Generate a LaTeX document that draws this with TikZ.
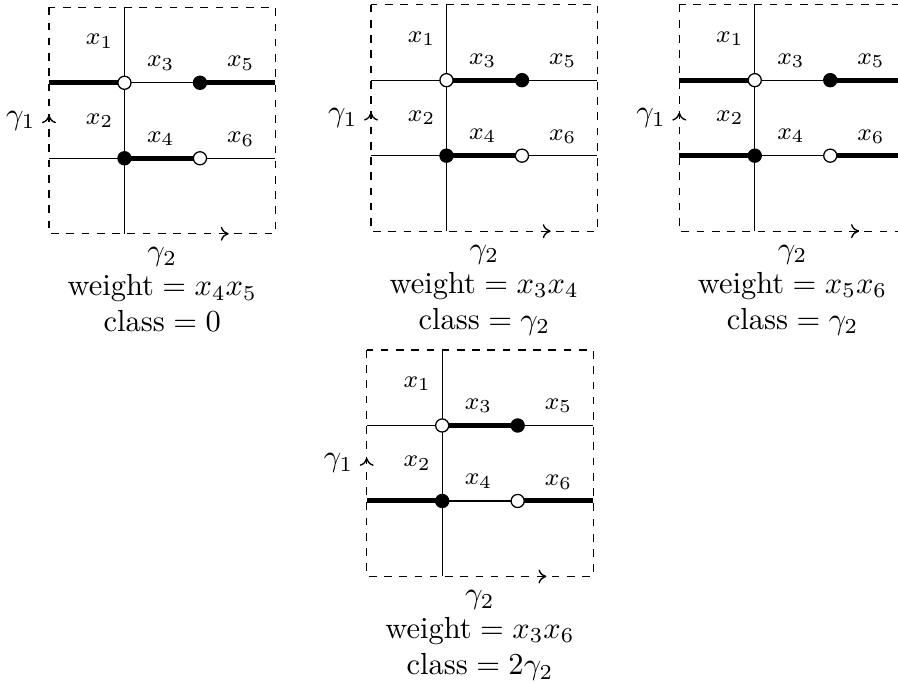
\documentclass[tikz,border=0pt]{standalone}
\usetikzlibrary{arrows.meta}
\pgfdeclarelayer{edges}
\pgfsetlayers{edges,main}
\tikzset{
  thinln/.style={line width=0.42pt},
  thk/.style={line width=1.65pt},
  bnd/.style={line width=0.42pt, dash pattern=on 2.5pt off 2.5pt},
  wv/.style={circle, draw, fill=white, inner sep=0pt, minimum size=4.3pt, line width=0.42pt},
  bv/.style={circle, draw, fill=black, inner sep=0pt, minimum size=4.3pt, line width=0.42pt},
  lab/.style={font=\footnotesize, inner sep=0pt},
  tipmark/.style={-{Computer Modern Rightarrow[length=2.6pt,width=4.6pt]}, line width=0.45pt, solid},
  captxt/.style={anchor=base, inner sep=0pt},
  panel/.style={x=24.76pt, y=-24.76pt}
}
\newcommand\gridpanel[1]{%
  \coordinate (#1nw) at (0,0);
  \coordinate (#1se) at (3,3);
  \coordinate (#1top) at (1,0);
  \coordinate (#1bot) at (1,3);
  \coordinate (#1lu) at (0,1);
  \coordinate (#1ru) at (3,1);
  \coordinate (#1ll) at (0,2);
  \coordinate (#1rl) at (3,2);
  \coordinate (#1ga) at (0,1.435);
  \coordinate (#1gb) at (0,1.43);
  \coordinate (#1gc) at (2.375,3);
  \coordinate (#1gd) at (2.38,3);
  \node[wv] (#1a) at (1,1) {};
  \node[bv] (#1b) at (2,1) {};
  \node[bv] (#1c) at (1,2) {};
  \node[wv] (#1d) at (2,2) {};
  \begin{pgfonlayer}{edges}
    \draw[bnd] (#1nw) rectangle (#1se);
    \draw[thinln] (#1top) -- (#1bot);
    \draw[thinln] (#1lu) -- (#1ru);
    \draw[thinln] (#1ll) -- (#1rl);
  \end{pgfonlayer}
  \draw[tipmark] (#1ga) -- (#1gb);
  \draw[tipmark] (#1gc) -- (#1gd);
  \node[lab] (#1x1) at (0.67,0.45) {$x_1$};
  \node[lab] (#1x2) at (0.67,1.5) {$x_2$};
  \node[lab] (#1x3) at (1.48,0.74) {$x_3$};
  \node[lab] (#1x4) at (1.48,1.74) {$x_4$};
  \node[lab] (#1x5) at (2.54,0.74) {$x_5$};
  \node[lab] (#1x6) at (2.54,1.75) {$x_6$};
  \node[anchor=east, inner sep=0pt] (#1g1) at (-0.17,1.5) {$\gamma_1$};
  \node (#1g2) at (1.5,3.31) {$\gamma_2$};
}
\begin{document}
\begin{tikzpicture}[x=0.328pt, y=-0.328pt]
\useasboundingbox (0,0) rectangle (898,683);
\clip (0,0) rectangle (898,683);

% panel 1
\begin{scope}[xshift=16.07pt, yshift=-2.39pt, panel]
  \gridpanel{p}
  \begin{pgfonlayer}{edges}
    \draw[thk] (plu) -- (pa.center);
    \draw[thk] (pb.center) -- (pru);
    \draw[thk] (pc.center) -- (pd.center);
  \end{pgfonlayer}
  \node[captxt] (pw) at (1.5,3.82) {$\mbox{weight} = x_4x_5$};
  \node[captxt] (pk) at (1.5,4.3) {$\mbox{class} = 0$};
\end{scope}

% panel 2
\begin{scope}[xshift=121.69pt, yshift=-1.54pt, panel]
  \gridpanel{q}
  \begin{pgfonlayer}{edges}
    \draw[thk] (qa.center) -- (qb.center);
    \draw[thk] (qc.center) -- (qd.center);
  \end{pgfonlayer}
  \node[captxt] (qw) at (1.5,3.82) {$\mbox{weight} = x_3x_4$};
  \node[captxt] (qk) at (1.5,4.3) {$\mbox{class} = \gamma_2$};
\end{scope}

% panel 3
\begin{scope}[xshift=222.81pt, yshift=-1.54pt, panel]
  \gridpanel{r}
  \begin{pgfonlayer}{edges}
    \draw[thk] (rlu) -- (ra.center);
    \draw[thk] (rb.center) -- (rru);
    \draw[thk] (rll) -- (rc.center);
    \draw[thk] (rd.center) -- (rrl);
  \end{pgfonlayer}
  \node[captxt] (rw) at (1.5,3.82) {$\mbox{weight} = x_5x_6$};
  \node[captxt] (rk) at (1.5,4.3) {$\mbox{class} = \gamma_2$};
\end{scope}

% panel 4
\begin{scope}[xshift=120.28pt, yshift=-114.8pt, panel]
  \gridpanel{s}
  \begin{pgfonlayer}{edges}
    \draw[thk] (sa.center) -- (sb.center);
    \draw[thk] (sll) -- (sc.center);
    \draw[thk] (sd.center) -- (srl);
  \end{pgfonlayer}
  \node[captxt] (sw) at (1.5,3.82) {$\mbox{weight} = x_3x_6$};
  \node[captxt] (sk) at (1.5,4.3) {$\mbox{class} = 2\gamma_2$};
\end{scope}
\end{tikzpicture}
\end{document}
